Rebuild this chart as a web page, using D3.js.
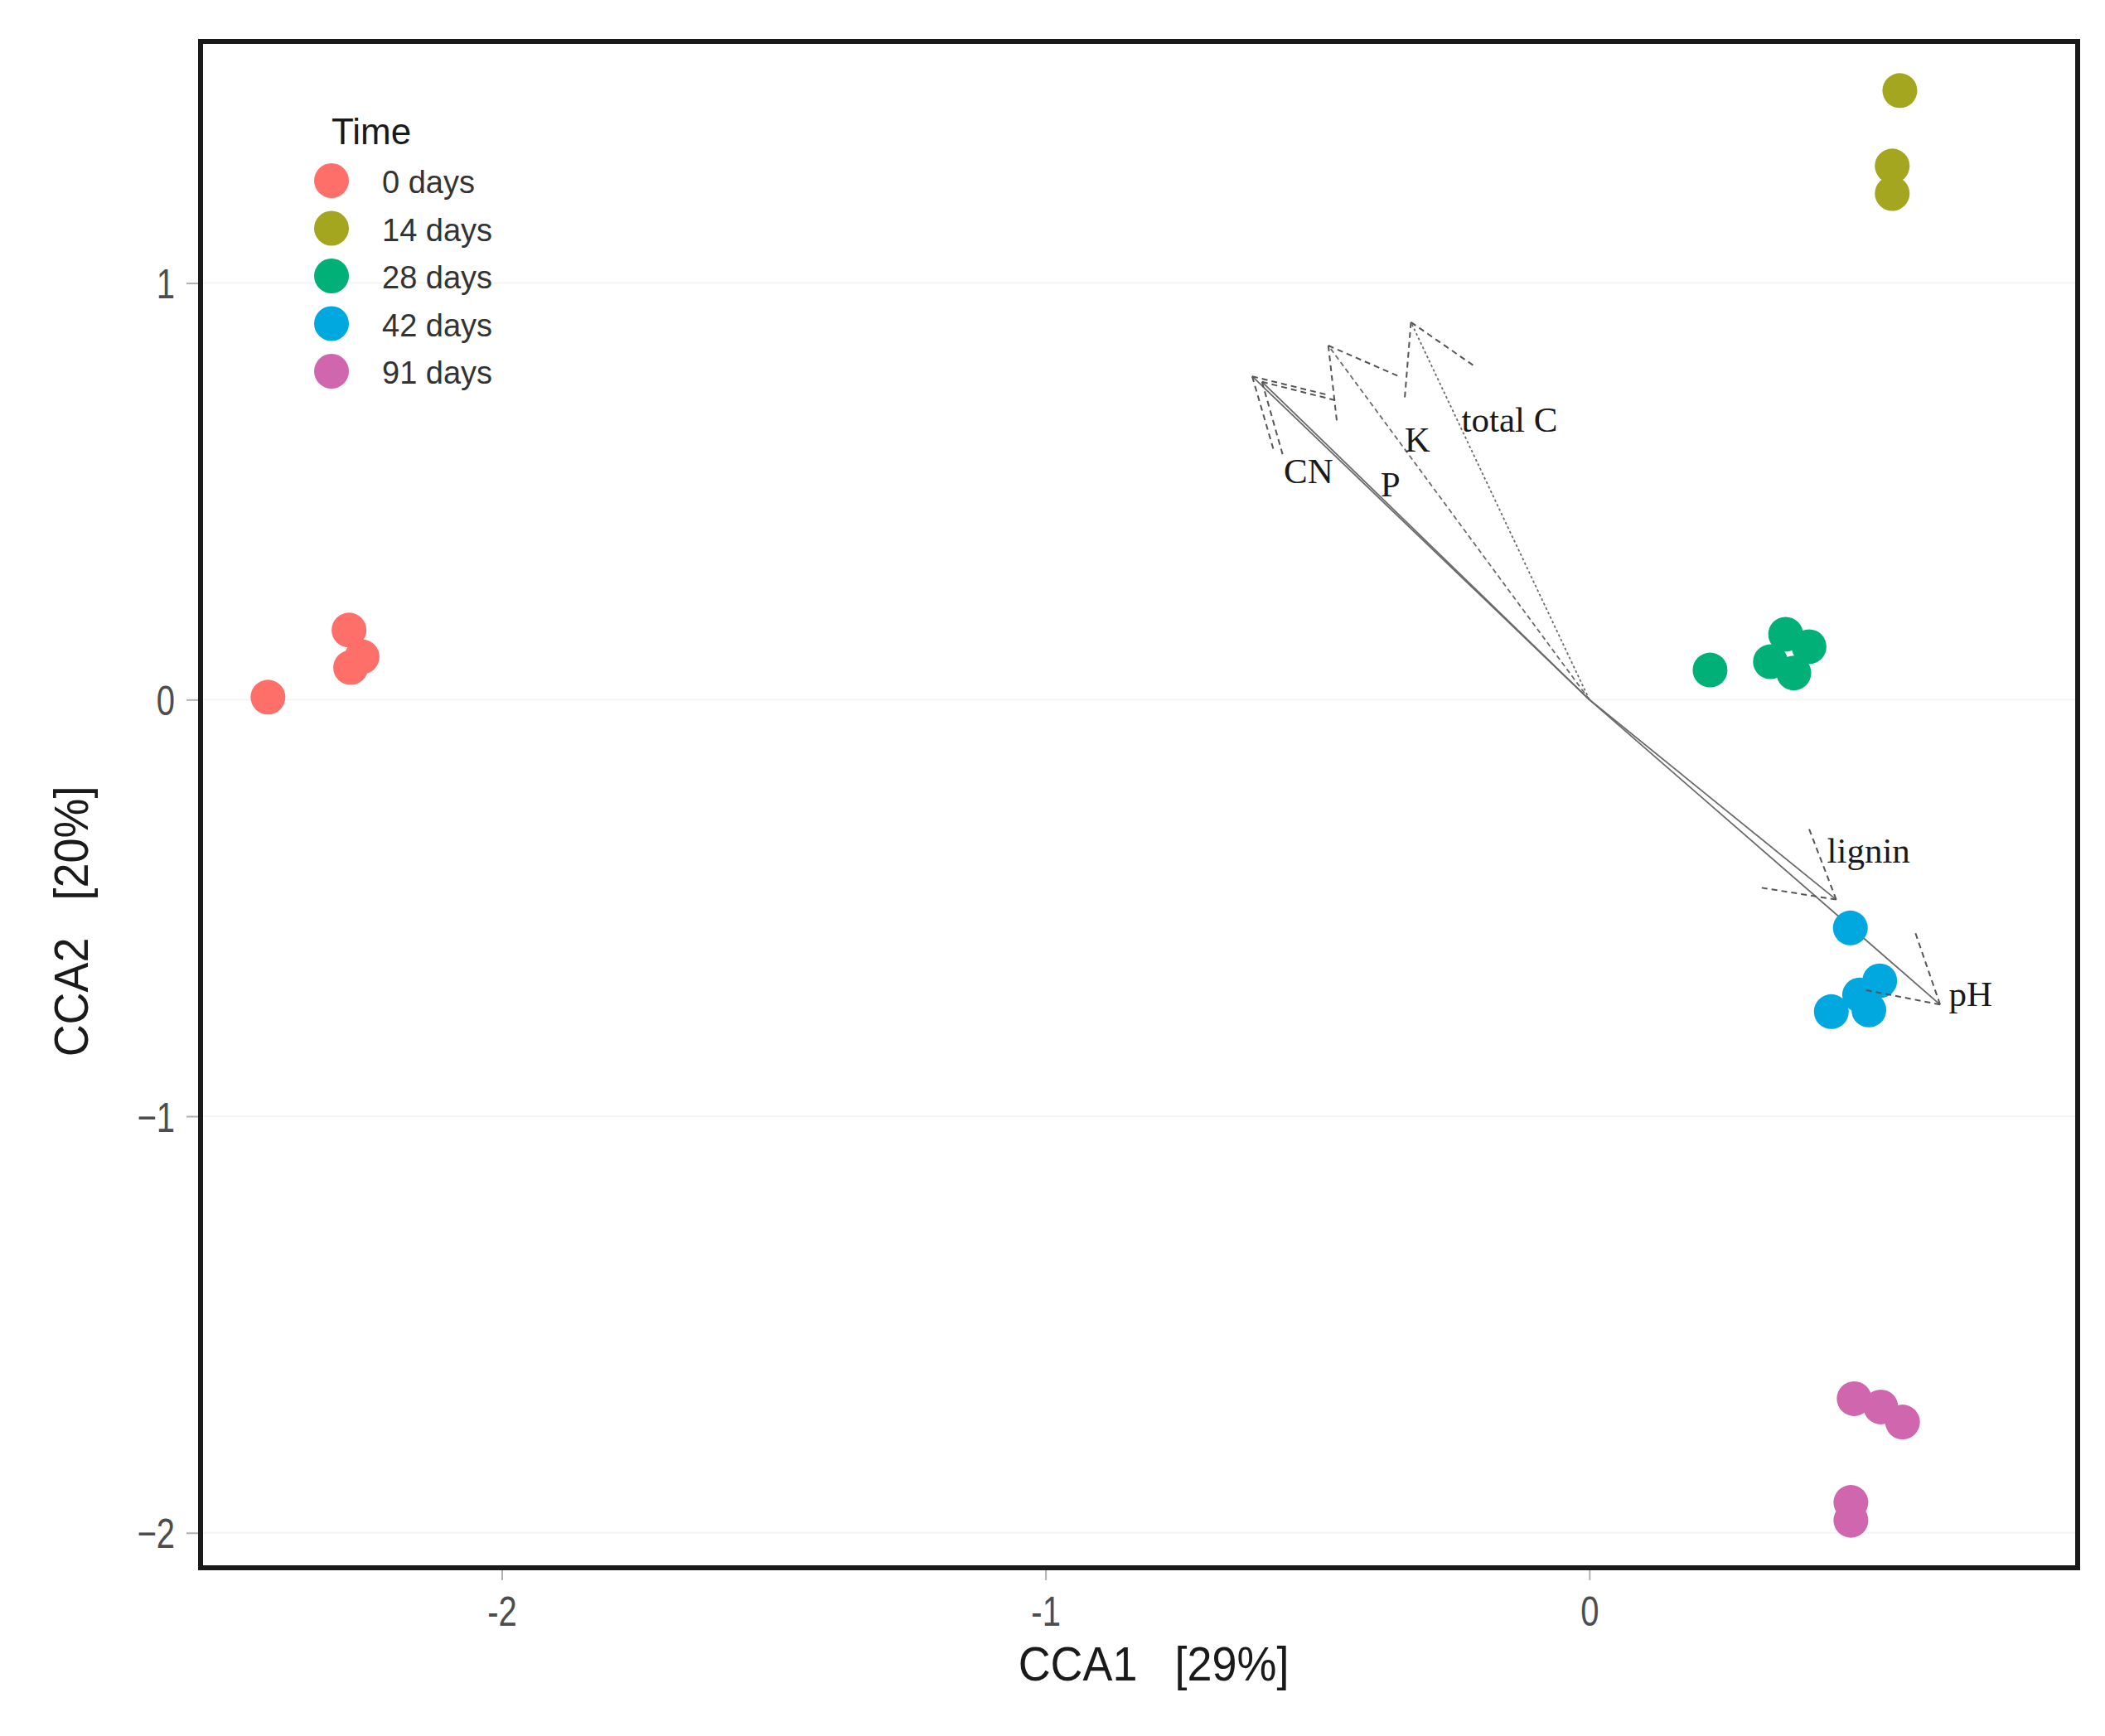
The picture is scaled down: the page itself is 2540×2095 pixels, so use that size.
<!DOCTYPE html>
<html>
<head>
<meta charset="utf-8">
<script src="https://cdn.jsdelivr.net/npm/d3@7"></script>
<style>
  html, body { margin: 0; padding: 0; background: #ffffff; }
  svg { display: block; }
</style>
</head>
<body>
<div id="chart"></div>
<script>
// ---------------- data ----------------
const groups = ["0 days", "14 days", "28 days", "42 days", "91 days"];
const groupColors = ["#FF6F69", "#A3A61E", "#00B077", "#00A8DF", "#D066AE"];

const pts0x  = [-2.430, -2.281, -2.278, -2.257];
const pts0y  = [ 0.006,  0.167,  0.077,  0.103];
const pts14x = [ 0.571,  0.557,  0.557];
const pts14y = [ 1.462,  1.281,  1.215];
const pts28x = [ 0.222,  0.361,  0.404,  0.333,  0.376];
const pts28y = [ 0.071,  0.157,  0.127,  0.091,  0.064];
const pts42x = [ 0.480,  0.534,  0.497,  0.445,  0.514];
const pts42y = [-0.548, -0.675, -0.709, -0.749, -0.745];
const pts91x = [ 0.487,  0.536,  0.576,  0.481,  0.481];
const pts91y = [-1.678, -1.698, -1.734, -1.927, -1.970];

const arrowVars = ["CN", "P", "K", "total C", "lignin", "pH"];
const arrowX    = [-0.620, -0.602, -0.480, -0.328,  0.454,  0.645];
const arrowY    = [ 0.776,  0.763,  0.850,  0.906, -0.480, -0.732];
const labelX    = [-0.562, -0.384, -0.340, -0.235,  0.437,  0.661];
const labelY    = [ 0.519,  0.487,  0.595,  0.644, -0.391, -0.735];

const xTickValues = [-2, -1, 0];
const xTickLabels = ["-2", "-1", "0"];
const yTickValues = [-2, -1, 0, 1];
const yTickLabels = ["\u22122", "\u22121", "0", "1"];
const xDomain = [-2.554, 0.898];
const yDomain = [-2.084, 1.580];
const xTitle = "CCA1   [29%]";
const yTitle = "CCA2   [20%]";
const legendTitle = "Time";

// ---------------- layout ----------------
const W = 2540, H = 2095;
const L = 242, R = 2507, T = 50, B = 1892;
const SANS = "'Liberation Sans', Arial, sans-serif";
const SERIF = "'Liberation Serif', 'Times New Roman', serif";

const svg = d3.select("#chart").append("svg")
  .attr("width", W).attr("height", H)
  .attr("viewBox", `0 0 ${W} ${H}`)
  .style("font-family", SANS);

svg.append("rect").attr("width", W).attr("height", H).attr("fill", "#fff");

const x = d3.scaleLinear().domain(xDomain).range([L, R]);
const y = d3.scaleLinear().domain(yDomain).range([B, T]);

// faint gridlines
svg.append("g").selectAll("line").data(yTickValues).join("line")
  .attr("x1", L).attr("x2", R)
  .attr("y1", d => y(d)).attr("y2", d => y(d))
  .attr("stroke", "#f4f4f4").attr("stroke-width", 2);

// axes
const yAxis = svg.append("g")
  .attr("transform", `translate(${L - 3},0)`)
  .call(d3.axisLeft(y).tickValues(yTickValues)
    .tickFormat((d, i) => yTickLabels[i]).tickSize(14).tickPadding(14));
const xAxis = svg.append("g")
  .attr("transform", `translate(0,${B + 3})`)
  .call(d3.axisBottom(x).tickValues(xTickValues)
    .tickFormat((d, i) => xTickLabels[i]).tickSize(12).tickPadding(0));

[yAxis, xAxis].forEach(g => {
  g.attr("font-family", null).attr("font-size", null);
  g.select(".domain").remove();
  g.selectAll(".tick line").attr("stroke", "#b0b0b0").attr("stroke-width", 2);
  g.selectAll(".tick text").attr("fill", "#4d4d4d")
    .style("font-family", SANS).style("font-size", "50px");
});
yAxis.selectAll(".tick text").each(function () {
  const t = d3.select(this);
  const xx = +t.attr("x");
  t.attr("x", 0).attr("dy", "0.36em")
   .attr("transform", `translate(${xx},0) scale(0.8,1)`);
});
xAxis.selectAll(".tick text").each(function () {
  const t = d3.select(this);
  t.attr("y", 0).attr("dy", 0)
   .attr("transform", `translate(0,${1962 - B - 3}) scale(0.8,1)`);
});

// axis titles
svg.append("text")
  .attr("transform", `translate(1392,2028) scale(0.93,1)`)
  .attr("text-anchor", "middle").style("font-size", "58px").attr("fill", "#1a1a1a")
  .style("white-space", "pre").text(xTitle);
svg.append("text")
  .attr("transform", `translate(106,1112) rotate(-90) scale(0.93,1)`)
  .attr("text-anchor", "middle").style("font-size", "58px").attr("fill", "#1a1a1a")
  .style("white-space", "pre").text(yTitle);

// arrows: shafts (under points)
const arrows = arrowVars.map((v, i) => ({ v, ax: arrowX[i], ay: arrowY[i], lx: labelX[i], ly: labelY[i] }));
const shaftDash = { "CN": null, "P": null, "K": "6,4", "total C": "3,3", "lignin": null, "pH": null };
svg.append("g").selectAll("line").data(arrows).join("line")
  .attr("x1", x(0)).attr("y1", y(0))
  .attr("x2", d => x(d.ax)).attr("y2", d => y(d.ay))
  .attr("stroke", "#6a6a6a").attr("stroke-width", 1.8)
  .attr("stroke-dasharray", d => shaftDash[d.v]);

// points
const series = [
  [pts0x, pts0y], [pts14x, pts14y], [pts28x, pts28y], [pts42x, pts42y], [pts91x, pts91y]
];
const points = [];
series.forEach(([xs, ys], gi) => xs.forEach((v, j) => points.push({ g: gi, px: v, py: ys[j] })));
svg.append("g").selectAll("circle").data(points).join("circle")
  .attr("cx", d => x(d.px)).attr("cy", d => y(d.py)).attr("r", 21)
  .attr("fill", d => groupColors[d.g]);

// arrow heads (dashed, on top)
const headLen = 95, headAng = Math.PI / 6;
const heads = [];
arrows.forEach(d => {
  const tx = x(d.ax), ty = y(d.ay);
  const back = Math.atan2(y(0) - ty, x(0) - tx);
  [-headAng, headAng].forEach(a => heads.push({
    x1: tx, y1: ty,
    x2: tx + headLen * Math.cos(back + a),
    y2: ty + headLen * Math.sin(back + a)
  }));
});
svg.append("g").selectAll("line").data(heads).join("line")
  .attr("x1", d => d.x1).attr("y1", d => d.y1)
  .attr("x2", d => d.x2).attr("y2", d => d.y2)
  .attr("stroke", "#555").attr("stroke-width", 2)
  .attr("stroke-dasharray", "7,5");

// arrow labels
svg.append("g").selectAll("text").data(arrows).join("text")
  .attr("x", d => x(d.lx)).attr("y", d => y(d.ly))
  .style("font-family", SERIF)
  .style("font-size", "43px").attr("fill", "#1a1a1a")
  .text(d => d.v);

// frame
svg.append("rect")
  .attr("x", L).attr("y", T).attr("width", R - L).attr("height", B - T)
  .attr("fill", "none").attr("stroke", "#1a1a1a").attr("stroke-width", 6);

// legend
const leg = svg.append("g");
leg.append("text").attr("x", 400).attr("y", 174)
  .style("font-size", "44px").attr("fill", "#1a1a1a").text(legendTitle);
const ly = d3.scalePoint().domain(groups).range([218, 448]);
leg.selectAll("circle").data(groups).join("circle")
  .attr("cx", 400).attr("cy", d => ly(d)).attr("r", 21)
  .attr("fill", (d, i) => groupColors[i]);
leg.selectAll("text.lab").data(groups).join("text").attr("class", "lab")
  .attr("x", 461).attr("y", d => ly(d) + 15)
  .style("font-size", "38px").attr("fill", "#333").text(d => d);
</script>
</body>
</html>
